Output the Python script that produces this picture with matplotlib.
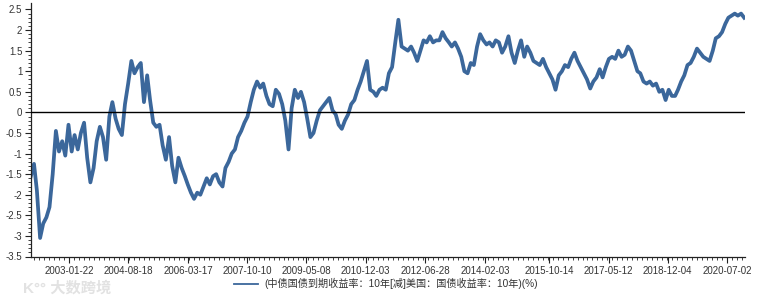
import matplotlib
matplotlib.use("Agg")
import matplotlib.pyplot as plt
import matplotlib.dates as mdates
from matplotlib.lines import Line2D
import numpy as np
import pandas as pd

plt.rcParams['font.family'] = ['Liberation Sans', 'Noto Sans CJK SC', 'DejaVu Sans']

# Monthly readings (mid-month), Jan 2002 .. Dec 2020
start_month = '2002-01-01'
spread = [
    -1.55, -1.25, -1.90, -3.05, -2.70, -2.55, -2.30, -1.50, -0.45, -0.95,
    -0.70, -1.05, -0.30, -0.95, -0.55, -0.90, -0.50, -0.25, -1.10, -1.70,
    -1.35, -0.70, -0.35, -0.60, -1.15, -0.10, 0.25, -0.15, -0.40, -0.55,
    0.20, 0.70, 1.25, 0.95, 1.10, 1.20, 0.25, 0.90, 0.30, -0.25,
    -0.35, -0.30, -0.80, -1.15, -0.60, -1.30, -1.70, -1.10, -1.35, -1.55,
    -1.75, -1.95, -2.10, -1.95, -2.00, -1.80, -1.60, -1.75, -1.55, -1.50,
    -1.70, -1.80, -1.35, -1.20, -1.00, -0.90, -0.60, -0.45, -0.25, -0.10,
    0.25, 0.55, 0.75, 0.60, 0.70, 0.40, 0.20, 0.15, 0.55, 0.45,
    0.20, -0.20, -0.90, 0.10, 0.55, 0.35, 0.50, 0.25, -0.15, -0.60,
    -0.50, -0.20, 0.05, 0.15, 0.25, 0.35, 0.05, -0.05, -0.30, -0.40,
    -0.20, -0.05, 0.20, 0.30, 0.55, 0.75, 1.00, 1.25, 0.55, 0.50,
    0.40, 0.55, 0.60, 0.55, 0.95, 1.10, 1.70, 2.25, 1.60, 1.55,
    1.50, 1.60, 1.45, 1.25, 1.50, 1.75, 1.70, 1.85, 1.70, 1.75,
    1.75, 1.95, 1.80, 1.70, 1.60, 1.70, 1.55, 1.35, 1.00, 0.95,
    1.20, 1.15, 1.60, 1.90, 1.75, 1.65, 1.70, 1.60, 1.75, 1.70,
    1.45, 1.60, 1.85, 1.45, 1.20, 1.50, 1.75, 1.35, 1.60, 1.45,
    1.25, 1.20, 1.15, 1.30, 1.10, 0.95, 0.80, 0.55, 0.90, 1.00,
    1.15, 1.10, 1.30, 1.45, 1.25, 1.10, 0.95, 0.80, 0.58, 0.75,
    0.85, 1.05, 0.85, 1.10, 1.30, 1.35, 1.30, 1.50, 1.35, 1.40,
    1.60, 1.50, 1.25, 1.00, 0.95, 0.75, 0.70, 0.75, 0.65, 0.70,
    0.50, 0.55, 0.30, 0.55, 0.40, 0.40, 0.55, 0.75, 0.90, 1.15,
    1.20, 1.35, 1.55, 1.45, 1.35, 1.30, 1.25, 1.50, 1.80, 1.85,
    1.95, 2.15, 2.30, 2.35, 2.40, 2.35, 2.40, 2.30,
]
tick_labels = ['2003-01-22', '2004-08-18', '2006-03-17', '2007-10-10', '2009-05-08',
               '2010-12-03', '2012-06-28', '2014-02-03', '2015-10-14', '2017-05-12',
               '2018-12-04', '2020-07-02']
y_ticks = [-3.5, -3, -2.5, -2, -1.5, -1, -0.5, 0, 0.5, 1, 1.5, 2, 2.5]
legend_label = '(中债国债到期收益率：10年[减]美国：国债收益率：10年)(%)'

dates = pd.date_range(start_month, periods=len(spread), freq='MS') + pd.Timedelta(days=14)

W, H = 771, 297
fig = plt.figure(figsize=(W / 100, H / 100), dpi=100)
ax = fig.add_axes([30.7 / W, (H - 256.5) / H, (745 - 30.7) / W, (256.5 - 3.3) / H])

line_color = '#3b679b'
ax.plot(dates, spread, color=line_color, lw=2.7, solid_joinstyle='round')
ax.axhline(0, color='black', lw=1.0, zorder=3)

ax.set_ylim(-3.5, 2.65)
ax.set_yticks(y_ticks)
ax.set_yticklabels([('%g' % v) for v in y_ticks])
ax.set_yticks(np.arange(-3.5, 2.55, 0.1), minor=True)

xl0 = mdates.date2num(dates[0]) - 1
xl1 = mdates.date2num(dates[-1]) + 8
ax.set_xlim(xl0, xl1)
major = [mdates.date2num(pd.Timestamp(t)) for t in tick_labels]
ax.set_xticks(major)
ax.set_xticklabels(tick_labels)
step = (major[-1] - major[0]) / (len(major) - 1) / 12
minor = np.arange(major[0], xl0, -step)[::-1].tolist() + np.arange(major[0], xl1, step).tolist()
ax.set_xticks(minor, minor=True)

for s in ['top', 'right']:
    ax.spines[s].set_visible(False)
for s in ['left', 'bottom']:
    ax.spines[s].set_color('#222222')
    ax.spines[s].set_linewidth(0.9)

ax.tick_params(axis='both', which='major', direction='out', length=4, width=0.8,
               colors='#222222', labelsize=7, labelcolor='#333333')
ax.tick_params(axis='both', which='minor', direction='out', length=2.5, width=0.6,
               colors='#222222')
ax.tick_params(axis='x', which='major', pad=3)
ax.tick_params(axis='y', which='major', pad=2)

handle = Line2D([0], [0], color=line_color, lw=1.3)
fig.legend([handle], [legend_label], loc='lower center', bbox_to_anchor=(0.5, -0.005),
           frameon=False, fontsize=7.3, handlelength=2.4, handletextpad=0.6,
           labelcolor='#333333')

fig.text(0.03, 0.015, 'K°° 大数跨境', fontsize=11, color='#e2e2e2', fontweight='bold')

fig.savefig('out.png', dpi=100)
